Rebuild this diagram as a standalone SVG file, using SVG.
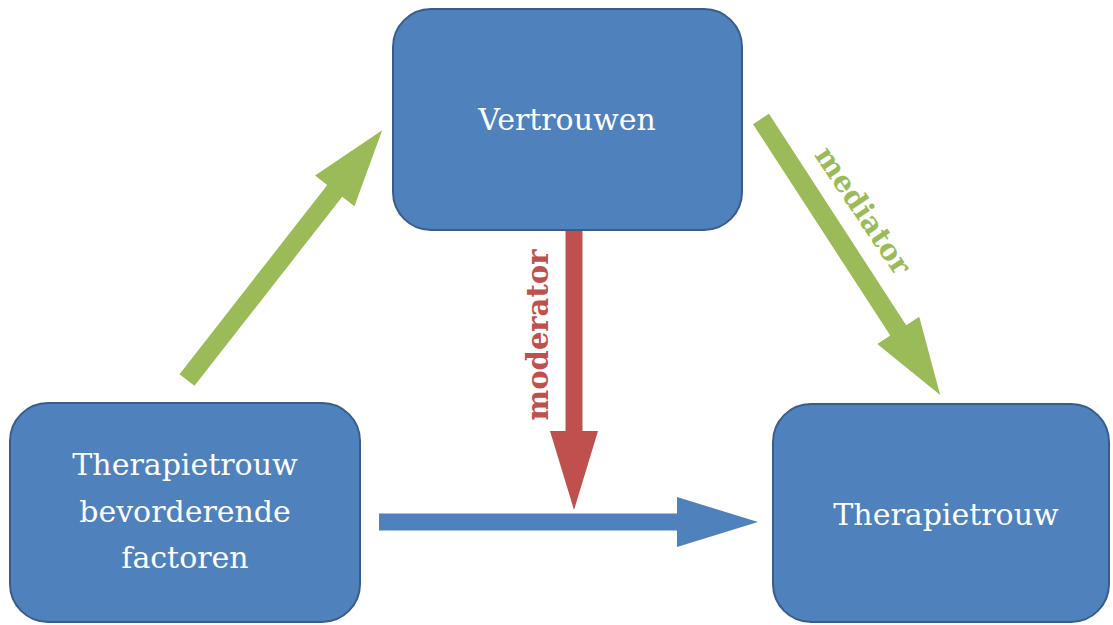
<svg xmlns="http://www.w3.org/2000/svg" width="1113" height="625" viewBox="0 0 1113 625">
  <style>
    .box { fill: #4F81BD; stroke: #385D8A; stroke-width: 2; }
    .lbl { font-family: "DejaVu Serif", "Liberation Serif", serif; font-size: 30px; fill: #FFFFFF; text-anchor: middle; }
    .green { fill: #9BBB59; }
    .red { fill: #C0504D; }
    .blue { fill: #4F81BD; }
    .albl { font-family: "DejaVu Serif", "Liberation Serif", serif; font-size: 29px; font-weight: bold; text-anchor: middle; }
  </style>
  <rect width="1113" height="625" fill="#FFFFFF"/>
  <g id="connectors">
    <polygon id="arrow-factors-vertrouwen" class="green" transform="translate(187,380) rotate(-52)" points="0,-9.5 240,-9.5 240,-25 317,0 240,25 240,9.5 0,9.5"/>
    <polygon id="arrow-mediator" class="green" transform="translate(761,119) rotate(57)" points="0,-9.5 252,-9.5 252,-25 329,0 252,25 252,9.5 0,9.5"/>
    <text class="albl green" transform="translate(855,216) rotate(56)">mediator</text>
    <polygon id="arrow-moderator" class="red" points="565.5,230 582.5,230 582.5,431 598,431 574,510 550,431 565.5,431"/>
    <text class="albl red" transform="translate(548,335) rotate(-90)">moderator</text>
    <polygon id="arrow-factors-therapietrouw" class="blue" points="379,513.5 677,513.5 677,497 758,522 677,547 677,530.5 379,530.5"/>
  </g>
  <g id="node-vertrouwen">
    <rect class="box" x="393" y="9" width="349" height="221" rx="38" ry="38"/>
    <text class="lbl" x="567" y="130">Vertrouwen</text>
  </g>
  <g id="node-factoren">
    <rect class="box" x="10" y="403" width="350" height="219" rx="38" ry="38"/>
    <text class="lbl" x="185" y="475">Therapietrouw</text>
    <text class="lbl" x="185" y="522">bevorderende</text>
    <text class="lbl" x="185" y="568">factoren</text>
  </g>
  <g id="node-therapietrouw">
    <rect class="box" x="773" y="404" width="336" height="218" rx="38" ry="38"/>
    <text class="lbl" x="946" y="525">Therapietrouw</text>
  </g>
</svg>
